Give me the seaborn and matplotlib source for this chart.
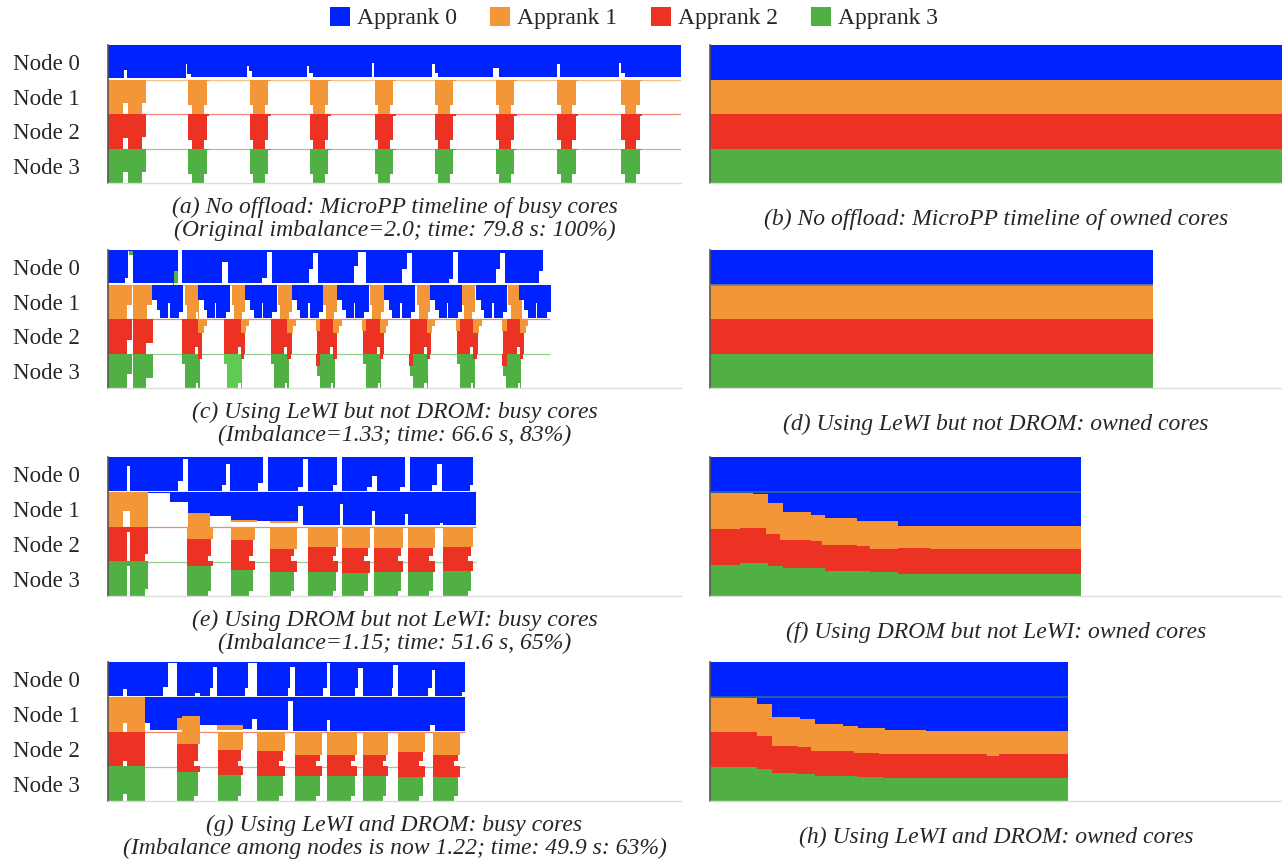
import numpy as np
import matplotlib
matplotlib.use("Agg")
import matplotlib.pyplot as plt
from matplotlib.patches import Patch
import seaborn as sns

# ---------------------------------------------------------------- labels
APPRANKS = ["Apprank 0", "Apprank 1", "Apprank 2", "Apprank 3"]
NODES = ["Node 0", "Node 1", "Node 2", "Node 3"]
COLORS = ["#0022ff", "#f29637", "#ec3323", "#50b043"]
LIGHT_GREEN = "#5fcb52"

CAPTIONS = {
    "a": ["(a) No offload: MicroPP timeline of busy cores",
          "(Original imbalance=2.0; time: 79.8 s: 100%)"],
    "b": ["(b) No offload: MicroPP timeline of owned cores"],
    "c": ["(c) Using LeWI but not DROM: busy cores",
          "(Imbalance=1.33; time: 66.6 s, 83%)"],
    "d": ["(d) Using LeWI but not DROM: owned cores"],
    "e": ["(e) Using DROM but not LeWI: busy cores",
          "(Imbalance=1.15; time: 51.6 s, 65%)"],
    "f": ["(f) Using DROM but not LeWI: owned cores"],
    "g": ["(g) Using LeWI and DROM: busy cores",
          "(Imbalance among nodes is now 1.22; time: 49.9 s: 63%)"],
    "h": ["(h) Using LeWI and DROM: owned cores"],
}

# Run lengths (seconds) of each timeline
END_A, END_C, END_E, END_G = 79.8, 61.6, 51.3, 49.7

# ------------------------------------------------- (a) busy cores, no offload
a_n0_t = [0, 2.2, 2.6, 10.8, 11.0, 11.5, 19.3, 19.6, 20.1, 27.7, 28.0, 28.5,
          36.7, 37.1, 45.1, 45.5, 46.0, 53.6, 54.5, 62.5, 62.9, 71.1, 71.5,
          72.0, 79.8]
a_n0_v = [0.95, 0.72, 0.95, 0.54, 0.85, 0.93, 0.61, 0.74, 0.93, 0.61, 0.80,
          0.93, 0.51, 0.93, 0.56, 0.80, 0.93, 0.66, 0.93, 0.54, 0.93, 0.51,
          0.80, 0.93, 0.0]
a_first = [(0.0, 1.0), (2.1, 0.69), (2.8, 1.0), (4.7, 0.67), (5.3, 0.0)]
a_starts = [11.2, 19.75, 28.1, 37.15, 45.5, 54.0, 62.55, 71.5]
a_burst = [(0.0, 0.75), (0.5, 1.0), (2.1, 0.75), (2.6, 0.05), (2.9, 0.0)]

# ------------------------------------------ (c) busy cores, LeWI without DROM
c_n0_t = [0, 2.3, 2.83, 3.53, 9.2, 9.8, 10.26, 15.83, 16.76, 21.5, 22.1, 22.8,
          28.0, 28.6, 29.3, 34.3, 34.87, 36.0, 41.0, 41.6, 42.3, 47.5, 48.1,
          48.8, 54.0, 54.6, 55.3, 60.0, 60.6]
c_n0_v = [0.97, 0.80, 0.03, 0.97, 0.60, 0.0, 0.97, 0.35, 0.97, 0.80, 0.05,
          0.97, 0.55, 0.10, 0.97, 0.45, 0.05, 0.97, 0.55, 0.10, 0.97, 0.85,
          0.05, 0.97, 0.55, 0.10, 0.97, 0.60, 0.0]
c_n0_green_t = [0, 2.9, 3.5, 9.1, 9.8]
c_n0_green_v = [0, 0.12, 0.0, 0.35, 0.0]
c_n1_first = [(0.0, 1.0), (2.6, 0.6), (3.3, 0.0), (3.5, 1.0), (5.5, 0.6), (6.1, 0.0)]
c_n1_starts = [10.72, 17.22, 23.72, 30.0, 36.5, 43.0, 49.26, 55.76]
c_n1_burst = [(0.0, 0.6), (0.3, 1.0), (1.5, 0.8), (1.9, 0.0)]
c_n1_guest_starts = [6.1, 12.6, 19.1, 25.6, 31.9, 38.4, 44.9, 51.2, 57.3]
c_n1_guest = [(0.0, 0.45), (0.7, 0.75), (1.2, 0.97), (2.3, 0.55), (2.5, 0.97),
              (3.8, 0.8), (4.4, 0.0)]
c_first = [(0.0, 1.0), (2.6, 0.6), (3.3, 0.0), (3.5, 1.0), (5.3, 0.7), (6.2, 0.0)]
c_starts = [10.26, 22.66, 29.06, 35.56, 42.06, 48.56, 55.06]
c_light_start = [16.16]
c_n2_burst = [(0.0, 1.0), (1.9, 0.8), (2.5, 0.6), (2.9, 0.0)]
c_n2_guest_tail = [(2.3, 0.4), (3.1, 0.2), (3.5, 0.0)]
c_n2_guest_lead_starts = [28.9, 35.4, 48.4, 54.9]
c_n3_burst = [(0.0, 0.3), (0.4, 1.0), (2.0, 0.85), (2.5, 0.0)]
c_n3_guest_tail = [(2.3, 0.15), (2.8, 0.0)]
c_n3_guest_lead_starts = [28.9, 41.9, 54.9]
c_lead = [(0.0, 0.35), (0.6, 0.0)]

# ------------------------------------------ (e) busy cores, DROM without LeWI
e_n0_t = [0, 2.6, 3.06, 9.7, 10.4, 11.19, 15.83, 16.43, 16.99, 20.94, 21.63,
          22.33, 26.5, 27.2, 27.9, 31.38, 31.85, 32.54, 36.03, 36.72, 37.42,
          40.67, 41.37, 42.06, 45.08, 45.77, 46.47, 50.4, 50.88]
e_n0_v = [0.97, 0.25, 0.97, 0.70, 0.05, 0.97, 0.80, 0.20, 0.97, 0.75, 0.0,
          0.97, 0.85, 0.05, 0.97, 0.80, 0.0, 0.97, 0.85, 0.55, 0.97, 0.85, 0.0,
          0.97, 0.80, 0.20, 0.97, 0.80, 0.0]
e_n1_blue_t = [0, 5.62, 8.64, 11.19, 14.21, 17.08, 20.71, 26.5, 27.2, 32.3,
               32.78, 36.72, 37.19, 41.37, 41.83, 46.24, 46.7, 51.3]
e_n1_blue_v = [0, 0.05, 0.30, 0.60, 0.70, 0.80, 0.85, 0.40, 0.97, 0.35, 0.97,
               0.55, 0.97, 0.65, 0.97, 0.90, 0.97, 0.0]
e_n1_orange_t = [0, 2.14, 3.06, 5.62, 11.19, 14.21, 17.08, 20.71, 22.56, 26.5]
e_n1_orange_v = [1.0, 0.55, 1.0, 0.0, 0.40, 0.0, 0.07, 0.0, 0.05, 0.0]
e_first = [(0.0, 1.0), (2.6, 0.15), (3.06, 1.0), (5.2, 0.8), (5.62, 0.0)]
e_starts = [11.05, 17.08, 22.56, 27.9, 32.54, 37.05, 41.83, 46.7]
e_durs = [3.62, 3.39, 3.71, 4.2, 3.95, 4.09, 3.71, 4.2]
e_n2_guest = [0.35, 0.40, 0.65, 0.60, 0.63, 0.63, 0.63, 0.60]
e_n3_guest = [0.15, 0.25, 0.30, 0.30, 0.33, 0.30, 0.30, 0.27]

# ----------------------------------------------- (g) busy cores, LeWI + DROM
g_n0_t = [0, 2.14, 2.6, 7.71, 8.4, 9.56, 12.12, 12.81, 14.2, 14.67, 15.13,
          19.08, 19.55, 20.71, 25.12, 25.35, 26.05, 30.0, 30.46, 30.92, 34.4,
          34.87, 35.56, 39.51, 39.74, 40.44, 44.61, 45.08, 45.54, 49.26, 49.72]
g_n0_v = [0.97, 0.78, 0.97, 0.73, 0.03, 0.97, 0.90, 0.97, 0.75, 0.13, 0.97,
          0.75, 0.03, 0.97, 0.75, 0.13, 0.97, 0.75, 0.03, 0.97, 0.75, 0.18,
          0.97, 0.75, 0.08, 0.97, 0.75, 0.23, 0.97, 0.85, 0.0]
g_n1_blue_t = [0, 5.15, 5.85, 9.56, 10.26, 12.81, 18.85, 20.01, 20.71, 25.12,
               25.82, 30.46, 30.92, 44.85, 45.54, 49.72]
g_n1_blue_v = [0, 0.75, 0.95, 0.60, 0.56, 0.80, 0.93, 0.65, 0.95, 0.13, 0.98,
               0.68, 0.98, 0.80, 0.98, 0.0]
g_n1_orange_t = [0, 2.14, 2.6, 5.15, 9.56, 10.26, 12.81, 15.13, 18.85]
g_n1_orange_v = [1.0, 0.75, 1.0, 0.0, 0.35, 0.44, 0.0, 0.17, 0.0]
g_n2_first = [(0.0, 1.0), (2.14, 0.85), (2.6, 1.0), (5.15, 0.0)]
g_n3_first = [(0.0, 1.0), (2.14, 0.80), (2.6, 1.0), (5.15, 0.0)]
g_starts = [9.56, 15.37, 20.71, 26.05, 30.46, 35.56, 40.44, 45.31]
g_durs = [3.25, 3.48, 3.95, 3.71, 4.18, 3.48, 3.71, 3.71]
g_n2_guest = [0.37, 0.52, 0.57, 0.67, 0.67, 0.67, 0.59, 0.67]
g_n3_guest = [0.17, 0.24, 0.27, 0.29, 0.29, 0.29, 0.31, 0.31]

# --------------------------------- owned cores: cumulative apprank boundaries
# (time, boundary in node units) for apprank 0|1, 1|2 and 2|3
b_flat = {"b01": [(0, 1.0)], "b12": [(0, 2.0)], "b23": [(0, 3.0)]}
f_b01 = [(0, 1.04), (5.96, 1.07), (8.04, 1.33), (10.11, 1.57), (14.0, 1.66),
         (16.08, 1.76), (20.49, 1.83), (26.19, 1.98)]
f_b12 = [(0, 2.08), (4.15, 2.04), (7.78, 2.23), (9.75, 2.38), (14.0, 2.43),
         (15.56, 2.52), (20.49, 2.55), (22.3, 2.64), (26.19, 2.61), (30.6, 2.65)]
f_b23 = [(0, 3.10), (4.15, 3.04), (8.04, 3.13), (10.11, 3.19), (16.08, 3.27),
         (22.3, 3.32), (26.19, 3.36)]
h_b01 = [(0, 1.01), (4.93, 1.04), (6.59, 1.20), (8.66, 1.58), (12.55, 1.65),
         (14.63, 1.77), (18.57, 1.83), (20.64, 1.91), (24.38, 1.96), (30.08, 1.99)]
h_b12 = [(0, 2.02), (6.59, 2.12), (8.66, 2.41), (12.19, 2.45), (14.11, 2.55),
         (20.12, 2.62), (23.6, 2.66), (38.64, 2.70), (40.2, 2.66)]
h_b23 = [(0, 3.02), (6.59, 3.09), (8.66, 3.20), (12.03, 3.23), (14.63, 3.28),
         (20.49, 3.32), (24.12, 3.35)]
END_B, END_D, END_F, END_H = 79.7, 61.7, 51.6, 49.9


# ------------------------------------------------------------------ helpers
def pulses(starts, profile):
    return [(s + dt, v) for s in starts for dt, v in profile]


def pairs(t, v):
    return list(zip(t, v))


def steps(*parts):
    pts = sorted((p for part in parts for p in part), key=lambda p: p[0])
    if not pts or pts[0][0] > 0:
        pts = [(0.0, 0.0)] + pts
    return np.array([p[0] for p in pts]), np.array([p[1] for p in pts])


def shared_bursts(starts, durs, guest_frac, tail_bottom=0.85):
    guest, host = [], []
    for s, d, f in zip(starts, durs, guest_frac):
        guest += [(s, f), (s + d, 0.0)]
        host += [(s, 1.0 - f), (s + d - 0.8, tail_bottom - f), (s + d - 0.3, 0.0)]
    return guest, host


def step_eval(t, v, grid):
    idx = np.searchsorted(t, grid, side="right") - 1
    return np.where(idx >= 0, v[np.clip(idx, 0, None)], 0.0)


def draw_busy(ax, rows, t_end):
    for r, layers in enumerate(rows):
        grid = np.unique(np.concatenate([lay[1][0] for lay in layers] + [[0.0, t_end]]))
        offset = np.zeros_like(grid)
        for apprank, (t, v), color in layers:
            val = step_eval(t, v, grid)
            top = np.minimum(offset, 1.0)
            bot = np.minimum(offset + val, 1.0)
            ax.fill_between(grid, r + top, r + bot, step="post", lw=0,
                            color=color or COLORS[apprank], zorder=2)
            offset = offset + val
        if r > 0:
            ax.hlines(r + 0.01, 0, t_end, color=COLORS[r], lw=0.9, alpha=0.6, zorder=1)


def draw_owned(ax, b01, b12, b23, t_end, sep_color=None):
    (t1, v1), (t2, v2), (t3, v3) = steps(b01), steps(b12), steps(b23)
    grid = np.unique(np.concatenate([t1, t2, t3, [t_end]]))
    y1, y2, y3 = step_eval(t1, v1, grid), step_eval(t2, v2, grid), step_eval(t3, v3, grid)
    bounds = [np.zeros_like(grid), y1, y2, y3, np.full_like(grid, 4.0)]
    for a in range(4):
        ax.fill_between(grid, bounds[a], bounds[a + 1], step="post", lw=0,
                        color=COLORS[a], zorder=2)
    if sep_color:
        ax.hlines(1.0, 0, t_end, color=sep_color, lw=1.3, zorder=3)


# ------------------------------------------------------------- build layers
def busy_a():
    host = steps(pulses([0.0], a_first), pulses(a_starts, a_burst))
    return [[(0, steps(pairs(a_n0_t, a_n0_v)), None)],
            [(1, host, None)], [(2, host, None)], [(3, host, None)]]


def busy_c():
    n0 = [(0, steps(pairs(c_n0_t, c_n0_v)), None),
          (3, steps(pairs(c_n0_green_t, c_n0_green_v)), None)]
    n1 = [(0, steps(pulses(c_n1_guest_starts, c_n1_guest)), None),
          (1, steps(pulses([0.0], c_n1_first), pulses(c_n1_starts, c_n1_burst)), None)]
    n2 = [(1, steps(pulses(c_starts + c_light_start, c_n2_guest_tail),
                    pulses(c_n2_guest_lead_starts, c_lead)), None),
          (2, steps(pulses([0.0], c_first), pulses(c_starts + c_light_start, c_n2_burst)), None)]
    n3 = [(2, steps(pulses(c_starts + c_light_start, c_n3_guest_tail),
                    pulses(c_n3_guest_lead_starts, c_lead)), None),
          (3, steps(pulses([0.0], c_first), pulses(c_starts, c_n3_burst)), None),
          (3, steps(pulses(c_light_start, c_n3_burst)), LIGHT_GREEN)]
    return [n0, n1, n2, n3]


def busy_shared(n0_t, n0_v, b_t, b_v, o_t, o_v, first2, first3, starts, durs, g2, g3):
    o2, r2 = shared_bursts(starts, durs, g2)
    r3, gr3 = shared_bursts(starts, durs, g3)
    return [[(0, steps(pairs(n0_t, n0_v)), None)],
            [(0, steps(pairs(b_t, b_v)), None), (1, steps(pairs(o_t, o_v)), None)],
            [(1, steps(o2), None), (2, steps(pulses([0.0], first2), r2), None)],
            [(2, steps(r3), None), (3, steps(pulses([0.0], first3), gr3), None)]]


# -------------------------------------------------------------------- figure
sns.set_theme(style="white")
plt.rcParams["font.family"] = ["Liberation Serif", "DejaVu Serif"]

W, H = 1282, 865
fig = plt.figure(figsize=(W / 100, H / 100), dpi=100)


def add_axes(x0, x1, y0, y1):
    return fig.add_axes([x0 / W, 1 - y1 / H, (x1 - x0) / W, (y1 - y0) / H])


ROWS = [(45, 183), (250, 388), (457, 596), (662, 801)]
LEFT_X, RIGHT_X = (108, 681), (710, 1282)
PX_PER_S = (LEFT_X[1] - LEFT_X[0]) / 79.8

busy = [
    (busy_a(), END_A),
    (busy_c(), END_C),
    (busy_shared(e_n0_t, e_n0_v, e_n1_blue_t, e_n1_blue_v, e_n1_orange_t, e_n1_orange_v,
                 e_first, e_first, e_starts, e_durs, e_n2_guest, e_n3_guest), END_E),
    (busy_shared(g_n0_t, g_n0_v, g_n1_blue_t, g_n1_blue_v, g_n1_orange_t, g_n1_orange_v,
                 g_n2_first, g_n3_first, g_starts, g_durs, g_n2_guest, g_n3_guest), END_G),
]
owned = [
    (b_flat["b01"], b_flat["b12"], b_flat["b23"], END_B, None),
    (b_flat["b01"], b_flat["b12"], b_flat["b23"], END_D, "#6f7f9f"),
    (f_b01, f_b12, f_b23, END_F, "#2b62a8"),
    (h_b01, h_b12, h_b23, END_H, "#2b62a8"),
]
left_keys, right_keys = ["a", "c", "e", "g"], ["b", "d", "f", "h"]

for i, (y0, y1) in enumerate(ROWS):
    axl = add_axes(LEFT_X[0], LEFT_X[1], y0, y1)
    rows, t_end = busy[i]
    draw_busy(axl, rows, t_end)
    axl.set_xlim(0, (LEFT_X[1] - LEFT_X[0]) / PX_PER_S)
    axl.set_ylim(4, 0)
    axl.set_xticks([])
    axl.set_yticks([0.5, 1.5, 2.5, 3.5])
    axl.set_yticklabels(NODES, fontsize=16.5)
    axl.tick_params(axis="y", length=0, pad=20)

    axr = add_axes(RIGHT_X[0], RIGHT_X[1], y0, y1)
    b01, b12, b23, t_end, sep = owned[i]
    draw_owned(axr, b01, b12, b23, t_end, sep)
    axr.set_xlim(0, (RIGHT_X[1] - RIGHT_X[0]) / PX_PER_S)
    axr.set_ylim(4, 0)
    axr.set_xticks([])
    axr.set_yticks([])

    for ax in (axl, axr):
        sns.despine(ax=ax, top=True, right=True)
        ax.spines["left"].set_color("#555555")
        ax.spines["left"].set_linewidth(1.2)
        ax.spines["bottom"].set_color("#dcdcdc")
        ax.spines["bottom"].set_linewidth(1.0)
        ax.set_facecolor("white")

    # captions
    lines = CAPTIONS[left_keys[i]]
    cx = (LEFT_X[0] + LEFT_X[1]) / 2
    for j, line in enumerate(lines):
        fig.text(cx / W, 1 - (y1 + 24 + 23.5 * j) / H, line, ha="center", va="center",
                 fontsize=17, style="italic")
    cxr = (RIGHT_X[0] + RIGHT_X[1]) / 2
    fig.text(cxr / W, 1 - (y1 + 36) / H, CAPTIONS[right_keys[i]][0], ha="center",
             va="center", fontsize=17, style="italic")

# legend
handles = [Patch(facecolor=c, edgecolor="none") for c in COLORS]
fig.legend(handles, APPRANKS, loc="center", bbox_to_anchor=(634 / W, 1 - 18 / H),
           ncol=4, frameon=False, fontsize=17, handlelength=0.85, handleheight=0.85,
           handletextpad=0.3, columnspacing=1.4, borderaxespad=0)

fig.savefig("out.png", dpi=100, facecolor="white")
